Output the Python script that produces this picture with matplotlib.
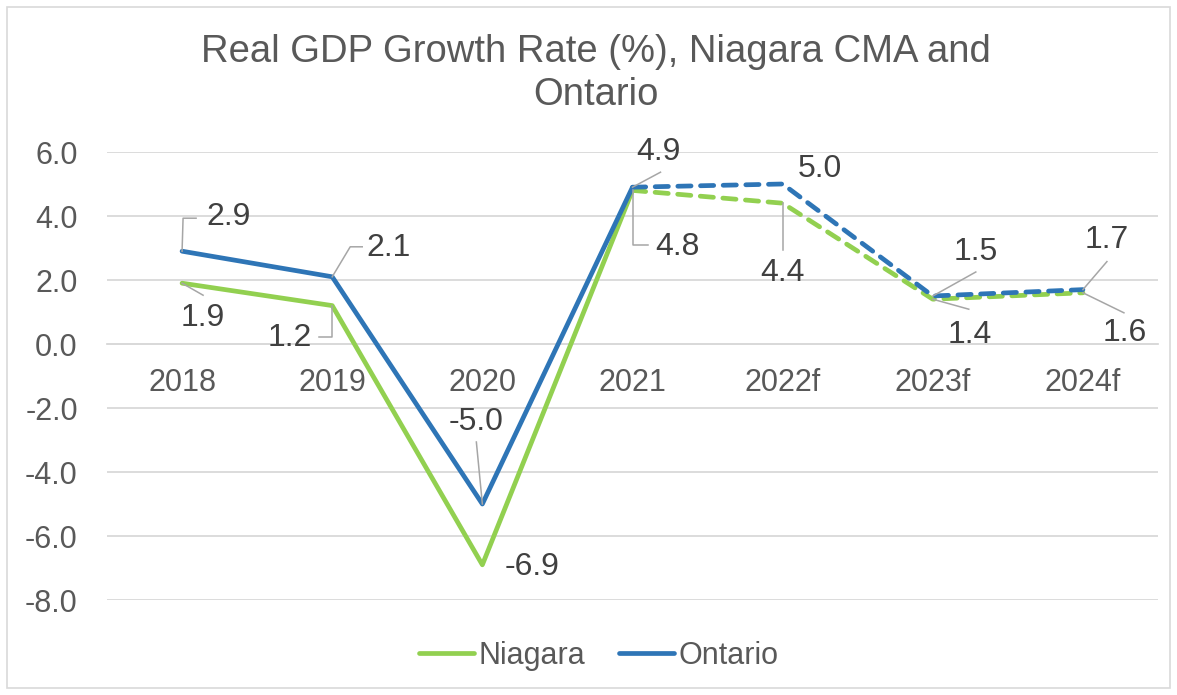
import matplotlib
matplotlib.use("Agg")
import matplotlib.pyplot as plt
from matplotlib.lines import Line2D
from matplotlib.patches import Rectangle

plt.rcParams['font.family'] = ['Liberation Sans', 'DejaVu Sans']

categories = ["2018", "2019", "2020", "2021", "2022f", "2023f", "2024f"]
niagara = [1.9, 1.2, -6.9, 4.8, 4.4, 1.4, 1.6]
ontario = [2.9, 2.1, -5.0, 4.9, 5.0, 1.5, 1.7]
n_actual = 4  # 2018-2021 actual, rest forecast
yticks = [6.0, 4.0, 2.0, 0.0, -2.0, -4.0, -6.0, -8.0]

GREEN = "#92D050"
BLUE = "#2E75B6"
GRID = "#D9D9D9"
TICK = "#595959"
LABEL = "#404040"
LEADER = "#A6A6A6"

W, H = 1177, 695
fig = plt.figure(figsize=(W / 100, H / 100), dpi=100)
ax = fig.add_axes([107 / W, 1 - 600 / H, (1158 - 107) / W, (600 - 152) / H])

x = list(range(len(categories)))
lw = 3.4
for vals, col in [(niagara, GREEN), (ontario, BLUE)]:
    ax.plot(x[:n_actual], vals[:n_actual], color=col, lw=lw,
            solid_capstyle='round', solid_joinstyle='round', zorder=3)
    ax.plot(x[n_actual - 1:], vals[n_actual - 1:], color=col, lw=lw,
            dashes=(2.8, 2.0), dash_capstyle='round', zorder=3)

ax.set_xlim(-0.5, len(categories) - 0.5)
ax.set_ylim(-8, 6)
ax.set_yticks(yticks)
ax.set_yticklabels([f"{v:.1f}" for v in yticks])
ax.set_xticks(x)
ax.set_xticklabels(categories)
ax.grid(axis='y', color=GRID, lw=1.3)
ax.set_axisbelow(True)
for s in ['top', 'right', 'left']:
    ax.spines[s].set_visible(False)
ax.spines['bottom'].set_position(('data', 0))
ax.spines['bottom'].set_color(GRID)
ax.spines['bottom'].set_linewidth(1.3)
ax.tick_params(axis='both', length=0, labelsize=22, labelcolor=TICK)
ax.tick_params(axis='x', pad=17)
ax.tick_params(axis='y', pad=21)

# data labels: (text offset px (dx, dy image-down), leader vertices offsets)
label_specs = {
    'ontario': [
        ((46, -34), [(0, 0), (1, -33), (14, -33)]),
        ((56, -29), [(0, 0), (18, -30), (30, -30)]),
        ((-6, -82), [(0, 0), (-6, -62)]),
        ((26, -35), [(0, 0), (28, -15)]),
        ((37, -15), None),
        ((43, -44), [(0, 0), (43, -24)]),
        ((24, -50), [(0, 0), (24, -28)]),
    ],
    'niagara': [
        ((21, 35), [(0, 0), (21, 12)]),
        ((-42, 32), [(0, 0), (0, 31), (-13, 31)]),
        ((50, 2), None),
        ((45, 57), [(0, 0), (0, 55), (15, 55)]),
        ((0, 70), [(0, 0), (0, 47)]),
        ((37, 36), [(0, 0), (36, 10)]),
        ((42, 40), [(0, 0), (41, 20)]),
    ],
}

fig.canvas.draw()
for name, vals in [('ontario', ontario), ('niagara', niagara)]:
    for i, v in enumerate(vals):
        (tdx, tdy), leader = label_specs[name][i]
        px, py = ax.transData.transform((x[i], v))
        if leader:
            xs = [px + dx for dx, dy in leader]
            ys = [py - dy for dx, dy in leader]
            fig.add_artist(Line2D(xs, ys, transform=None, color=LEADER,
                                  lw=1.1, zorder=4))
        ax.annotate(f"{v:.1f}", (x[i], v), xytext=(tdx, -tdy),
                    textcoords='offset pixels', ha='center', va='center',
                    fontsize=23, color=LABEL, zorder=5)

fig.text(596 / W, 1 - 52 / H, "Real GDP Growth Rate (%), Niagara CMA and",
         ha='center', va='center', fontsize=27.5, color=TICK)
fig.text(596 / W, 1 - 95 / H, "Ontario",
         ha='center', va='center', fontsize=27.5, color=TICK)

handles = [Line2D([], [], color=GREEN, lw=lw, solid_capstyle='round'),
           Line2D([], [], color=BLUE, lw=lw, solid_capstyle='round')]
fig.legend(handles, ["Niagara", "Ontario"], loc='center',
           bbox_to_anchor=(599 / W, 1 - 656 / H), ncol=2, frameon=False,
           fontsize=22, labelcolor=TICK, handlelength=1.8, handletextpad=0.15,
           columnspacing=1.1)

fig.add_artist(Rectangle((7 / W, 7 / H), (W - 14) / W, (H - 14) / H,
                         transform=fig.transFigure, fill=False,
                         edgecolor=GRID, lw=1.2))

fig.savefig("out.png", dpi=100)
